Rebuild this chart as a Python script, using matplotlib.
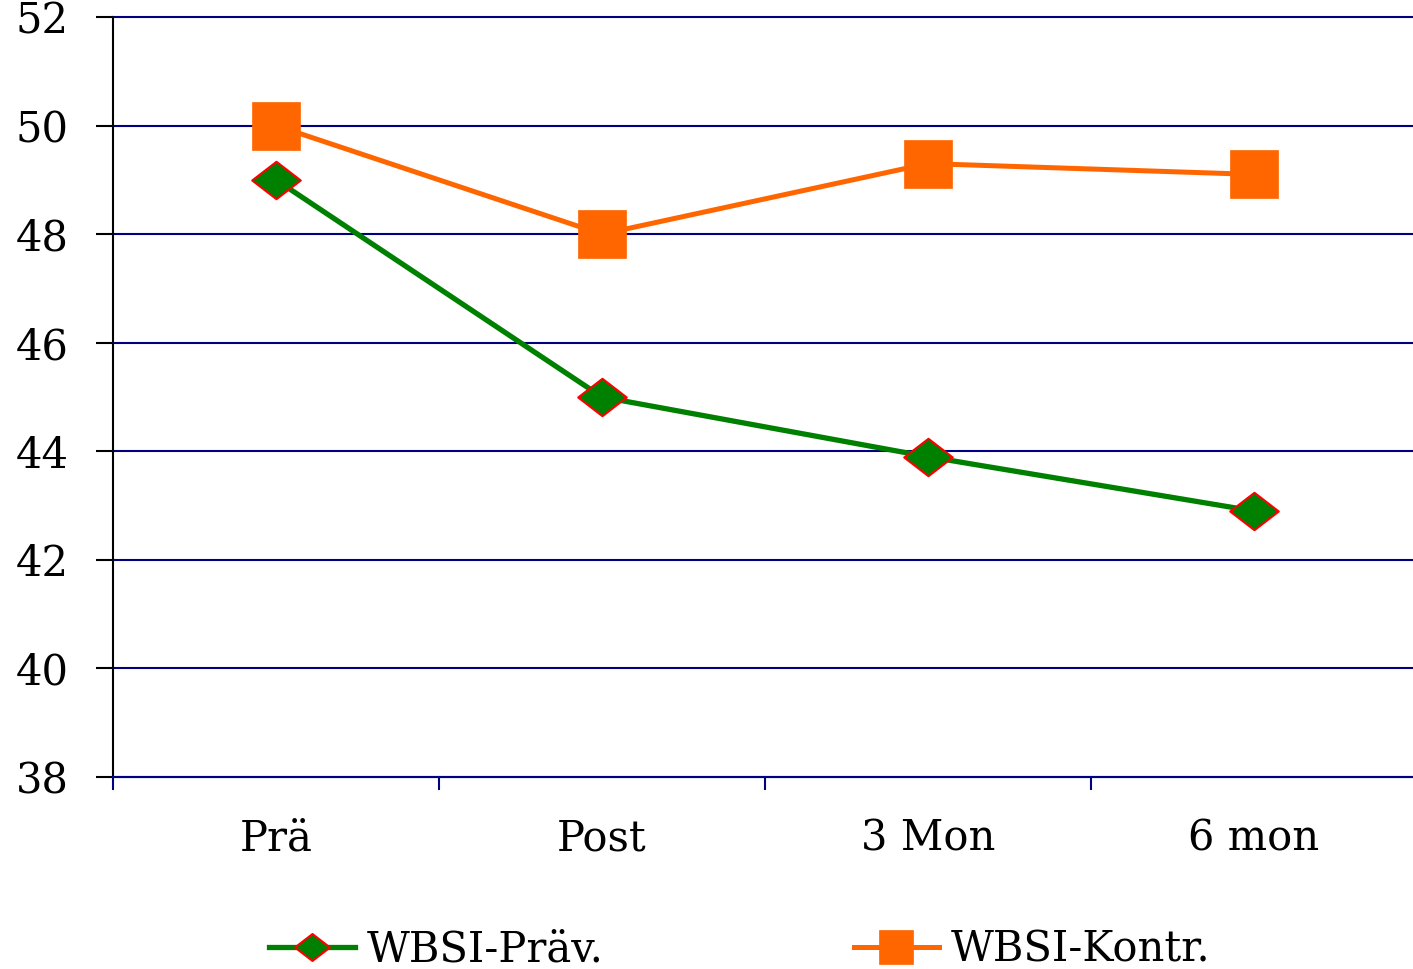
import matplotlib
matplotlib.use("Agg")
import matplotlib.pyplot as plt
from matplotlib.path import Path
from matplotlib.ticker import FixedLocator

plt.rcParams['font.family'] = ['DejaVu Serif']

# time points and mean scores of both groups
zeitpunkte = ['Prä', 'Post', '3 Mon', '6 mon']
wbsi_praev = [49.0, 45.0, 43.9, 42.9]
wbsi_kontr = [50.0, 48.0, 49.3, 49.1]
y_ticks = [38, 40, 42, 44, 46, 48, 50, 52]

navy = '#000080'
green = '#008000'
orange = '#FF6600'

# flat diamond, wider than tall
raute = Path([(-1, 0), (0, 0.77), (1, 0), (0, -0.77), (-1, 0)],
             [Path.MOVETO, Path.LINETO, Path.LINETO, Path.LINETO, Path.CLOSEPOLY])

fig = plt.figure(figsize=(14.13, 9.69), dpi=100)
ax = fig.add_axes([113 / 1413, 192 / 969, 1304 / 1413, 760 / 969])

x = list(range(len(zeitpunkte)))
ax.plot(x, wbsi_praev, color=green, lw=3.8, marker=raute, ms=35,
        markerfacecolor=green, markeredgecolor='red', markeredgewidth=1.5,
        label='WBSI-Präv.', zorder=4)
ax.plot(x, wbsi_kontr, color=orange, lw=3.6, marker='s', ms=34,
        markerfacecolor=orange, markeredgecolor=orange, markeredgewidth=0.5,
        label='WBSI-Kontr.', zorder=3)

ax.set_xlim(-0.5, 3.5)
ax.set_ylim(38, 52)

# horizontal grid
for yv in y_ticks:
    ax.axhline(yv, color=navy, lw=1.5, zorder=1, clip_on=False)

ax.set_yticks(y_ticks)
ax.set_yticklabels([str(v) for v in y_ticks], fontsize=30)
ax.tick_params(axis='y', direction='out', length=12, width=1.5, color='black', pad=20)

ax.set_xticks(x)
ax.set_xticklabels(zeitpunkte, fontsize=30)
ax.xaxis.set_minor_locator(FixedLocator([-0.5, 0.5, 1.5, 2.5, 3.5]))
ax.tick_params(axis='x', which='major', length=0, pad=29)
ax.tick_params(axis='x', which='minor', direction='out', length=9, width=1.5, color=navy)

ax.spines['top'].set_visible(False)
ax.spines['right'].set_visible(False)
ax.spines['left'].set_color('black')
ax.spines['left'].set_linewidth(1.5)
ax.spines['bottom'].set_color(navy)
ax.spines['bottom'].set_linewidth(1.5)

h, l = ax.get_legend_handles_labels()
fig.legend(h, l, loc='center', bbox_to_anchor=(740 / 1413, 19 / 969), ncol=2,
           frameon=False, fontsize=30, markerscale=0.72, handlelength=2.05,
           handletextpad=0.29, columnspacing=6.0, borderaxespad=0, borderpad=0)

fig.savefig('out.png', dpi=100)
